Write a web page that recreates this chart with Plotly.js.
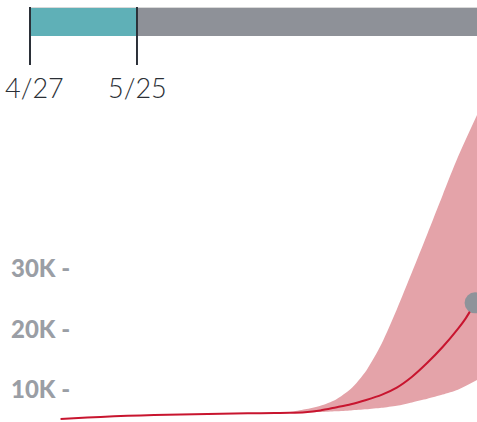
<!DOCTYPE html>
<html>
<head>
<meta charset="utf-8">
<script src="https://cdn.plot.ly/plotly-3.0.1.min.js"></script>
<style>html,body{margin:0;padding:0;background:#fff;}#chart{width:477px;height:422px;}</style>
</head>
<body>
<div id="chart"></div>
<script>
// Timeline phases (top bar)
const phaseStart = ['2020-04-27', '2020-05-25'];
const phaseEnd   = ['2020-05-25', '2020-08-22'];
const phaseColors = ['#5fb0b7', '#8e9198'];
const markerDates = ['2020-04-27', '2020-05-25'];
const markerLabels = ['4/27', '5/25'];

// Projection line (thousands)
const lineDates = ['2020-05-05','2020-05-12','2020-05-19','2020-05-26','2020-06-02','2020-06-09','2020-06-16','2020-06-23','2020-06-30','2020-07-04','2020-07-08','2020-07-12','2020-07-16','2020-07-20','2020-07-24','2020-07-28','2020-08-01','2020-08-05','2020-08-09','2020-08-13','2020-08-17','2020-08-19','2020-08-21 12:00'];
const lineValues = [5.2, 5.45, 5.65, 5.8, 5.92, 6.0, 6.07, 6.14, 6.2, 6.22, 6.32, 6.62, 7.12, 7.64, 8.36, 9.2, 10.4, 12.2, 14.5, 17.1, 20.1, 21.8, 24.4];

// Uncertainty band (thousands)
const bandDates = ['2020-06-30','2020-07-04','2020-07-08','2020-07-12','2020-07-16','2020-07-20','2020-07-24','2020-07-28','2020-08-01','2020-08-05','2020-08-09','2020-08-13','2020-08-17','2020-08-22'];
const bandLower = [6.2, 6.22, 6.3, 6.35, 6.48, 6.63, 6.8, 7.06, 7.4, 7.95, 8.55, 9.25, 10.05, 11.65];
const bandUpper = [6.2, 6.36, 6.8, 7.4, 8.4, 10.2, 13.2, 17.6, 23.3, 29.5, 35.8, 42.2, 48.5, 55.45];

const yTickVals = [10, 20, 30];
const yTickText = ['10K -', '20K -', '30K -'];

const traces = [];
// phase bars
for (let i = 0; i < phaseStart.length; i++) {
  traces.push({
    type: 'bar', orientation: 'h', xaxis: 'x', yaxis: 'y2',
    base: [phaseStart[i]],
    x: [new Date(phaseEnd[i]) - new Date(phaseStart[i])],
    y: [78], width: 28,
    marker: {color: phaseColors[i], line: {width: 0}},
    hoverinfo: 'skip', showlegend: false
  });
}
// thin top border of bar
traces.push({
  type: 'scatter', mode: 'lines', xaxis: 'x', yaxis: 'y2',
  x: [phaseStart[0], phaseEnd[phaseEnd.length - 1]], y: [92.5, 92.5],
  line: {color: '#d9d9d9', width: 1}, hoverinfo: 'skip', showlegend: false
});
// marker ticks
markerDates.forEach(d => {
  traces.push({
    type: 'scatter', mode: 'lines', xaxis: 'x', yaxis: 'y2',
    x: [d, d], y: [35, 93],
    line: {color: '#2b3038', width: 2}, hoverinfo: 'skip', showlegend: false
  });
});
// band
traces.push({
  type: 'scatter', mode: 'lines', x: bandDates, y: bandLower,
  line: {width: 0, shape: 'spline', smoothing: 0.7}, hoverinfo: 'skip', showlegend: false
});
traces.push({
  type: 'scatter', mode: 'lines', x: bandDates, y: bandUpper,
  fill: 'tonexty', fillcolor: '#e4a3a9',
  line: {width: 0, shape: 'spline', smoothing: 0.7}, hoverinfo: 'skip', showlegend: false
});
// line
traces.push({
  type: 'scatter', mode: 'lines', x: lineDates, y: lineValues,
  line: {color: '#c8152f', width: 2, shape: 'spline', smoothing: 0.7}, hoverinfo: 'skip', showlegend: false
});
// end dot
traces.push({
  type: 'scatter', mode: 'markers',
  x: [lineDates[lineDates.length - 1]], y: [lineValues[lineValues.length - 1]],
  marker: {color: '#8f939a', size: 21}, cliponaxis: false, hoverinfo: 'skip', showlegend: false
});

const labelShift = [5, 1];
const annotations = markerDates.map((d, i) => ({
  x: d, y: 13, xref: 'x', yref: 'y2', text: markerLabels[i], showarrow: false,
  xanchor: 'center', yanchor: 'middle', xshift: labelShift[i],
  font: {family: 'Lato, sans-serif', size: 27, color: '#2b2f36', weight: 300}
}));

const layout = {
  width: 477, height: 422,
  margin: {l: 0, r: 0, t: 0, b: 0},
  paper_bgcolor: '#ffffff', plot_bgcolor: '#ffffff',
  showlegend: false,
  barmode: 'overlay',
  xaxis: {type: 'date', range: ['2020-04-19 03:36', '2020-08-22 00:00'], visible: false, anchor: 'y'},
  yaxis: {
    domain: [0, 322/422], range: [4.71, 57.93],
    tickvals: yTickVals, ticktext: yTickText,
    ticklabelposition: 'inside', ticklabelstandoff: 8,
    ticks: '', showgrid: false, zeroline: false, showline: false,
    tickfont: {family: 'Lato, sans-serif', size: 24, color: '#9a9ea5', weight: 900}
  },
  yaxis2: {domain: [322/422, 1], range: [0, 100], visible: false, anchor: 'x'},
  annotations: annotations
};

Plotly.newPlot('chart', traces, layout, {staticPlot: true, displayModeBar: false});
</script>
</body>
</html>
